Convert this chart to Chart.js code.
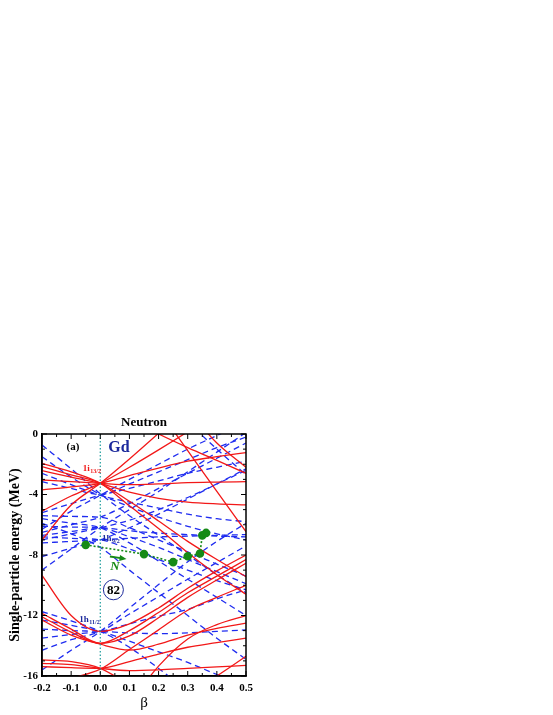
<!DOCTYPE html>
<html><head><meta charset="utf-8">
<script src="https://cdn.jsdelivr.net/npm/chart.js@4.4.1/dist/chart.umd.min.js"></script>
<style>html,body{margin:0;padding:0;background:#fff;overflow:hidden}#wrap{position:absolute;left:0;top:0;width:553px;height:715px}</style>
</head><body><div id="wrap"><canvas id="c" width="553" height="715"></canvas></div>
<script>
// deformation grid (beta)
const BETA = [-0.2, -0.1, 0.0, 0.1, 0.2, 0.3, 0.4, 0.5];
const X_TICKS = [-0.2, -0.1, 0.0, 0.1, 0.2, 0.3, 0.4, 0.5];
const Y_TICKS = [0, -4, -8, -12, -16];

// positive-parity levels (red, solid)
const red_i1  = [-1.94, -2.5, -3.26, -4.75, -6.25, -7.85, -9.3, -10.6];
const red_i3  = [-2.16, -2.7, -3.26, -4.45, -5.75, -7.1, -8.3, -9.43];
const red_i5  = [-2.42, -2.85, -3.26, -3.85, -4.25, -4.5, -4.62, -4.69];
const red_i7  = [-3.04, -3.15, -3.26, -3.35, -3.3, -3.22, -3.18, -3.15];
const red_i9  = [-3.7, -3.5, -3.26, -2.75, -2.25, -1.8, -1.5, -1.23];
const red_i11 = [-5.1, -4.1, -3.26, -2.2, -1.05, 0.15, 1.4, 2.6];
const red_i13 = [-7.0, -4.7, -3.26, -1.65, 0.05, 1.8, 3.5, 5.2];
const red_t1  = [null, null, 2.0, 1.0, 0.0, -0.9, -1.75, -2.6];
const red_t2  = [null, null, null, 4.3, 1.6, -1.1, -3.8, -6.46];
const red_t3  = [null, null, null, null, null, 1.6, -0.6, -2.2];
const red_l1  = [-9.35, -12.0, -13.05, -12.55, -11.5, -10.2, -9.05, -8.0];
const red_l2  = [-11.86, -12.9, -13.84, -13.0, -11.8, -10.5, -9.4, -8.3];
const red_l3  = [-12.08, -13.1, -13.84, -13.35, -12.15, -10.8, -9.65, -8.55];
const red_l4  = [-12.3, -13.3, -13.9, -14.28, -13.9, -13.3, -12.85, -12.5];
const red_l5  = [null, null, null, -17.8, -15.35, -13.55, -12.6, -12.0];
const red_l6  = [-16.7, -16.15, -15.55, -14.25, -12.95, -11.65, -10.8, -10.0];
const red_b1  = [-14.94, -15.05, -15.49, -16.6, -17.8, null, null, null];
const red_b2  = [-15.16, -15.25, -15.49, -15.65, -15.6, -15.5, -15.4, -15.3];
const red_b3  = [-15.38, -15.45, -15.49, -15.05, -14.55, -14.1, -13.8, -13.5];
const red_b4  = [null, null, null, null, null, -17.3, -16.0, -14.7];

// negative-parity levels (blue, dashed)
const blue_u1  = [-0.73, -2.3, -3.95, -5.4, -6.7, -8.0, -9.3, -10.5];
const blue_u2  = [-1.5, -2.85, -4.0, -4.8, -5.5, -6.1, -6.6, -7.0];
const blue_f5a = [-2.6, -3.35, -4.05, -4.5, -4.9, -5.3, -5.6, -5.8];
const blue_p1  = [-3.15, -3.6, -4.0, -3.3, -2.5, -1.7, -0.9, -0.2];
const blue_f5b = [-5.2, -4.6, -4.05, -3.6, -3.1, -2.6, -2.2, -1.8];
const blue_f5c = [-6.3, -5.1, -4.05, -3.0, -2.0, -1.0, -0.1, 0.8];
const blue_p3a = [-5.4, -5.45, -5.5, -6.2, -7.0, -7.8, -8.6, -9.4];
const blue_p3b = [-6.5, -6.0, -5.5, -4.6, -3.6, -2.6, -1.6, -0.6];
const blue_h1  = [-5.6, -5.9, -6.2, -7.2, -8.4, -9.6, -10.8, -12.0];
const blue_h3  = [-6.1, -6.15, -6.2, -6.8, -7.5, -8.3, -9.1, -9.9];
const blue_h5  = [-6.7, -6.45, -6.2, -6.4, -6.55, -6.65, -6.75, -6.8];
const blue_h7  = [-7.0, -6.6, -6.2, -5.7, -5.0, -4.2, -3.3, -2.4];
const blue_h9  = [-9.0, -7.6, -6.2, -5.0, -3.8, -2.5, -1.2, 0.1];
const blue_g1  = [-5.9, -6.6, -7.5, -9.0, -10.5, -12.0, -13.5, -14.9];
const blue_g3  = [-6.8, -6.9, -7.0, -7.6, -8.3, -9.0, -9.7, -10.3];
const blue_g5  = [-7.2, -7.1, -7.0, -6.9, -6.8, -6.75, -6.7, -6.65];
const blue_g7  = [-8.1, -7.55, -7.0, -6.2, -5.3, -4.3, -3.3, -2.3];
const blue_j1  = [null, null, null, null, null, 0.8, -1.0, -2.7];
const blue_k1  = [-11.75, -12.35, -13.05, -14.1, -15.5, -17.0, null, null];
const blue_k3  = [-12.3, -12.65, -13.05, -13.7, -14.4, -15.1, -15.9, -16.6];
const blue_k5  = [-12.9, -13.0, -13.05, -13.15, -13.2, -13.15, -13.05, -12.95];
const blue_k7  = [-13.5, -13.25, -13.05, -12.55, -12.05, -11.6, -10.9, -10.3];
const blue_k9  = [-14.3, -13.6, -13.05, -11.9, -10.75, -9.6, -8.5, -7.4];
const blue_k11 = [-15.6, -14.3, -13.05, -11.5, -9.95, -8.45, -7.1, -5.9];

// marked orbital (green)
const GREEN_BETA = [-0.05, 0.15, 0.25, 0.30, 0.342, 0.35, 0.363];
const GREEN_E    = [-7.33, -7.94, -8.47, -8.08, -7.9, -6.7, -6.54];
// spherical reference line
const SPH_BETA = [0, 0];
const SPH_E = [0, -16];

const RED = '#f21818', BLUE = '#1f2cf0', GREEN = '#168a16', TEAL = '#1b9c9c', NAVY = '#1c2a9c';
const redLines = [red_i1, red_i3, red_i5, red_i7, red_i9, red_i11, red_i13, red_t1, red_t2, red_t3,
  red_l1, red_l2, red_l3, red_l4, red_l5, red_l6, red_b1, red_b2, red_b3, red_b4];
const blueLines = [blue_u1, blue_u2, blue_f5a, blue_p1, blue_f5b, blue_f5c, blue_p3a, blue_p3b,
  blue_h1, blue_h3, blue_h5, blue_h7, blue_h9, blue_g1, blue_g3, blue_g5, blue_g7, blue_j1,
  blue_k1, blue_k3, blue_k5, blue_k7, blue_k9, blue_k11];

function mk(arr, color, dashed) {
  return { data: BETA.map((b, i) => ({ x: b, y: arr[i] })), borderColor: color, borderWidth: 1.3,
    borderDash: dashed ? [6, 4] : [], pointRadius: 0, cubicInterpolationMode: 'monotone', fill: false };
}
const datasets = [];
datasets.push({ data: GREEN_BETA.map((b, i) => ({ x: b, y: GREEN_E[i] })), borderColor: GREEN, borderWidth: 1.6,
  borderDash: [2, 2], pointRadius: 3.5, pointBackgroundColor: GREEN, pointBorderColor: GREEN, tension: 0 });
datasets.push({ data: SPH_BETA.map((b, i) => ({ x: b, y: SPH_E[i] })), borderColor: TEAL, borderWidth: 1.2,
  borderDash: [1.5, 2], pointRadius: 0 });
redLines.forEach(a => datasets.push(mk(a, RED, false)));
blueLines.forEach(a => datasets.push(mk(a, BLUE, true)));

const SERIF = '"Liberation Serif", "DejaVu Serif", serif';

function subText(ctx, x, y, main, sub, color, size) {
  ctx.fillStyle = color;
  ctx.font = 'bold ' + size + 'px ' + SERIF;
  ctx.textAlign = 'left'; ctx.textBaseline = 'alphabetic';
  ctx.fillText(main, x, y);
  const w = ctx.measureText(main).width;
  ctx.font = 'bold ' + Math.round(size * 0.62) + 'px ' + SERIF;
  ctx.fillText(sub, x + w + 0.5, y + 2);
}

const deco = {
  id: 'deco',
  afterDraw(chart) {
    const { ctx, chartArea: a, scales: { x, y } } = chart;
    ctx.save();
    // frame
    ctx.strokeStyle = '#000'; ctx.lineWidth = 1.5; ctx.setLineDash([]);
    ctx.strokeRect(a.left, a.top, a.right - a.left, a.bottom - a.top);
    ctx.lineWidth = 1;
    for (let k = 0; k <= 14; k++) {
      const v = -0.2 + k * 0.05; const px = x.getPixelForValue(v);
      const len = (k % 2 === 0) ? 5 : 3;
      ctx.beginPath();
      ctx.moveTo(px, a.bottom); ctx.lineTo(px, a.bottom - len);
      ctx.moveTo(px, a.top); ctx.lineTo(px, a.top + len);
      ctx.stroke();
    }
    for (let k = 0; k <= 16; k++) {
      const py = y.getPixelForValue(-k);
      const len = (k % 4 === 0) ? 5 : 3;
      ctx.beginPath();
      ctx.moveTo(a.left, py); ctx.lineTo(a.left + len, py);
      ctx.moveTo(a.right, py); ctx.lineTo(a.right - len, py);
      ctx.stroke();
    }
    // title
    ctx.fillStyle = '#000'; ctx.font = 'bold 13px ' + SERIF; ctx.textAlign = 'center'; ctx.textBaseline = 'middle';
    ctx.fillText('Neutron', (a.left + a.right) / 2, a.top - 11);
    // panel label
    ctx.font = 'bold 11px ' + SERIF;
    ctx.fillText('(a)', x.getPixelForValue(-0.094), y.getPixelForValue(-0.86));
    ctx.fillStyle = NAVY; ctx.font = 'bold 16px ' + SERIF;
    ctx.fillText('Gd', x.getPixelForValue(0.064), y.getPixelForValue(-0.93));
    // orbital labels
    subText(ctx, x.getPixelForValue(-0.06), y.getPixelForValue(-2.45), '1i', '13/2', RED, 9);
    subText(ctx, x.getPixelForValue(0.006), y.getPixelForValue(-7.05), '1h', '9/2', NAVY, 9);
    subText(ctx, x.getPixelForValue(-0.072), y.getPixelForValue(-12.4), '1h', '11/2', NAVY, 9);
    // magic number
    const cx = x.getPixelForValue(0.045), cy = y.getPixelForValue(-10.3);
    ctx.beginPath(); ctx.arc(cx, cy, 10, 0, Math.PI * 2); ctx.strokeStyle = NAVY; ctx.lineWidth = 1; ctx.stroke();
    ctx.fillStyle = '#000'; ctx.font = 'bold 13px ' + SERIF; ctx.textAlign = 'center'; ctx.textBaseline = 'middle';
    ctx.fillText('82', cx, cy + 0.5);
    // arrow N
    const x1 = x.getPixelForValue(0.033), y1 = y.getPixelForValue(-8.1);
    const x2 = x.getPixelForValue(0.09), y2 = y.getPixelForValue(-8.27);
    ctx.strokeStyle = GREEN; ctx.fillStyle = GREEN; ctx.lineWidth = 1.8;
    ctx.beginPath(); ctx.moveTo(x1, y1); ctx.lineTo(x2 - 4, y2 - 0.6); ctx.stroke();
    const ang = Math.atan2(y2 - y1, x2 - x1);
    ctx.beginPath(); ctx.moveTo(x2, y2);
    ctx.lineTo(x2 - 7 * Math.cos(ang) + 3 * Math.sin(ang), y2 - 7 * Math.sin(ang) - 3 * Math.cos(ang));
    ctx.lineTo(x2 - 7 * Math.cos(ang) - 3 * Math.sin(ang), y2 - 7 * Math.sin(ang) + 3 * Math.cos(ang));
    ctx.closePath(); ctx.fill();
    ctx.font = 'italic bold 13px ' + SERIF;
    ctx.fillText('N', x.getPixelForValue(0.05), y.getPixelForValue(-8.75));
    ctx.restore();
  }
};

new Chart(document.getElementById('c'), {
  type: 'line',
  data: { datasets },
  options: {
    responsive: false, animation: false, devicePixelRatio: 1,
    layout: { padding: { left: 0, top: 434, right: 307, bottom: 0 } },
    plugins: { legend: { display: false }, tooltip: { enabled: false }, title: { display: false } },
    elements: { line: { borderCapStyle: 'butt' } },
    scales: {
      x: {
        type: 'linear', min: -0.2, max: 0.5,
        afterFit: s => { s.height = 39; },
        afterBuildTicks: s => { s.ticks = X_TICKS.map(v => ({ value: v })); },
        grid: { display: false, drawTicks: false },
        border: { display: true, color: '#000', width: 1.5 },
        ticks: { color: '#000', padding: 6, autoSkip: false, maxRotation: 0,
          font: { family: SERIF, size: 11, weight: 'bold' },
          callback: v => (Math.round(v * 10) / 10).toFixed(1) },
        title: { display: true, text: 'β', color: '#000', font: { family: SERIF, size: 15 }, padding: { top: 0, bottom: 3 } }
      },
      y: {
        type: 'linear', min: -16, max: 0,
        afterFit: s => { s.width = 42; },
        afterBuildTicks: s => { s.ticks = Y_TICKS.map(v => ({ value: v })); },
        grid: { display: false, drawTicks: false },
        border: { display: true, color: '#000', width: 1.5 },
        ticks: { color: '#000', padding: 4, autoSkip: false,
          font: { family: SERIF, size: 11, weight: 'bold' },
          callback: v => String(v) },
        title: { display: true, text: 'Single-particle energy (MeV)', color: '#000',
          font: { family: SERIF, size: 14, weight: 'bold' }, padding: { top: 6.5, bottom: 0 } }
      }
    }
  },
  plugins: [deco]
});
</script></body></html>
